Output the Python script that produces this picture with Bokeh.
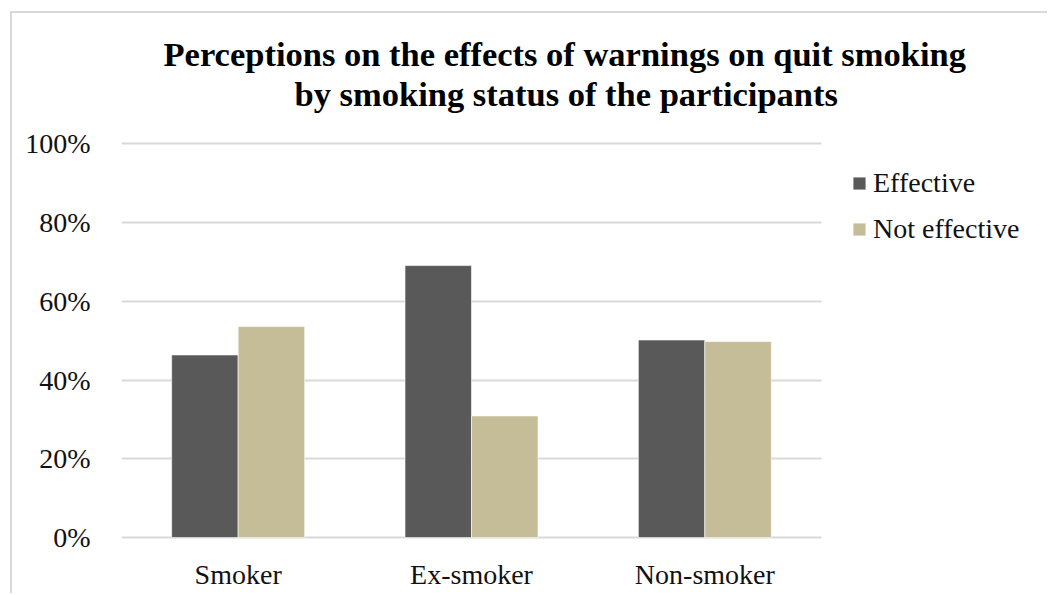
from bokeh.plotting import figure
from bokeh.models import (Range1d, FixedTicker, Legend, LegendItem,
                          Title, ColumnDataSource)
from bokeh.transform import dodge
from bokeh.embed import file_html
from bokeh.resources import INLINE

# ---- data ----
categories = ["Smoker", "Ex-smoker", "Non-smoker"]
effective = [46.4, 69.1, 50.2]
not_effective = [53.6, 30.9, 49.8]
series_names = ["Effective", "Not effective"]
y_ticks = [0, 20, 40, 60, 80, 100]
y_tick_labels = ["0%", "20%", "40%", "60%", "80%", "100%"]
title_lines = ["Perceptions on the effects of warnings on quit smoking",
               "by smoking status of the participants"]

FONT = "Liberation Serif"
C_EFF = "#595959"
C_NOT = "#C4BD97"
GRID = "#d9d9d9"

n = len(categories)
xc = [i + 0.5 for i in range(n)]          # category centres on a numeric scale
src = ColumnDataSource(dict(x=xc, cat=categories, eff=effective, neff=not_effective))

# canvas offset created by the chart border (css)
OX, OY = 12, 13
W, H = 1049 - OX, 595 - OY
FL = 121 - OX                 # frame left (canvas px)
PLOT_W = 700                  # width of the category area in px
FT, FB = 112 - OY, 541 - OY   # frame top/bottom (canvas px)
frame_w = W - FL
x_end = n * frame_w / PLOT_W  # frame extends right so the legend can live inside it

p = figure(width=W, height=H, output_backend="svg", toolbar_location=None,
           x_range=Range1d(0, x_end), y_range=Range1d(-1, 108),
           min_border_left=FL, min_border_right=0,
           min_border_top=FT, min_border_bottom=H - FB,
           styles={"margin-left": "10px", "margin-top": "11px",
                   "border-left": "2px solid #d9d9d9",
                   "border-top": "2px solid #d9d9d9"})
p.outline_line_color = None
p.background_fill_color = "white"
p.border_fill_color = "white"

r1 = p.vbar(x=dodge("x", -0.1425), top="eff", width=0.285,
            source=src, fill_color=C_EFF, line_color="white", line_width=0.6)
r2 = p.vbar(x=dodge("x", 0.1425), top="neff", width=0.285,
            source=src, fill_color=C_NOT, line_color="white", line_width=0.6)

# axes
p.xgrid.grid_line_color = None
p.ygrid.grid_line_color = GRID
p.ygrid.grid_line_width = 2
p.ygrid.cross_bounds = (0, n)
p.yaxis.ticker = FixedTicker(ticks=y_ticks)
p.yaxis.major_label_overrides = {t: l for t, l in zip(y_ticks, y_tick_labels)}
p.xaxis.ticker = FixedTicker(ticks=xc)
p.xaxis.major_label_overrides = {x: c for x, c in zip(xc, categories)}
for ax in (p.xaxis, p.yaxis):
    ax.axis_line_color = None
    ax.major_tick_line_color = None
    ax.minor_tick_line_color = None
    ax.major_label_text_font = FONT
    ax.major_label_text_font_size = "28px"
    ax.major_label_text_color = "#111111"
p.yaxis.major_label_standoff = 25
p.xaxis.major_label_standoff = 11

# legend (inside the widened frame, right of the bars)
legend = Legend(items=[LegendItem(label=series_names[0], renderers=[r1]),
                       LegendItem(label=series_names[1], renderers=[r2])],
                location=(730, 296), orientation="vertical",
                glyph_width=16, glyph_height=16, label_standoff=6,
                spacing=14, padding=0, margin=0,
                border_line_color=None, background_fill_alpha=0,
                label_text_font=FONT, label_text_font_size="28px",
                label_text_color="#111111")
p.add_layout(legend, "center")

# two-line title, each line centred on x=563 (page px)
p.add_layout(Title(text=title_lines[1], align="left", offset=173, standoff=0,
                   text_font=FONT, text_font_style="bold",
                   text_font_size="34.5px", text_color="black"), "above")
p.add_layout(Title(text=title_lines[0], align="left", offset=42, standoff=0,
                   text_font=FONT, text_font_style="bold",
                   text_font_size="34.5px", text_color="black"), "above")

open("out.html", "w").write(file_html(p, INLINE))
